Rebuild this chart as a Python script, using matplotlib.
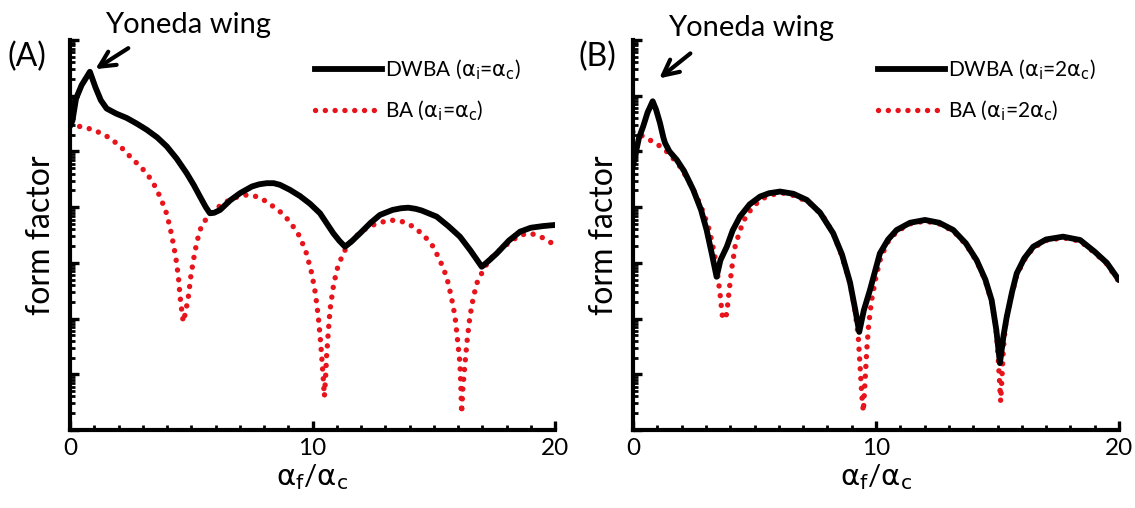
import numpy as np
import matplotlib
matplotlib.use("Agg")
import matplotlib.pyplot as plt
from matplotlib.ticker import LogLocator, MultipleLocator, NullFormatter
from matplotlib.lines import Line2D

plt.rcParams['font.family'] = ['Lato', 'DejaVu Sans']
plt.rcParams['mathtext.fontset'] = 'dejavusans'

# ---------------- data (log10 of form factor) ----------------
# Panel A : alpha_i = alpha_c
xa_dwba = [0.0, 0.1, 0.25, 0.48, 0.82, 1.05, 1.27, 1.51, 1.9, 2.34, 2.75, 3.16, 3.6, 3.99,
           4.4, 4.81, 5.1, 5.36, 5.6, 5.77, 5.95, 6.19, 6.6, 7.01, 7.5, 7.8, 8.11, 8.4, 8.66,
           9.07, 9.48, 9.9, 10.31, 10.6, 10.86, 11.1, 11.34, 11.6, 11.96, 12.4, 12.78, 13.3,
           13.65, 13.95, 14.25, 14.5, 15.12, 15.6, 16.08, 16.5, 16.98, 17.3, 17.6, 18.1,
           18.56, 19.0, 19.5, 20.0]
ya_dwba = [5.45, 5.55, 5.95, 6.19, 6.43, 6.15, 5.92, 5.77, 5.68, 5.60, 5.50, 5.39, 5.25, 5.09,
           4.87, 4.61, 4.40, 4.19, 4.00, 3.89, 3.90, 3.95, 4.12, 4.25, 4.37, 4.41, 4.43, 4.43, 4.40,
           4.31, 4.20, 4.06, 3.89, 3.70, 3.53, 3.40, 3.29, 3.38, 3.53, 3.72, 3.86, 3.95,
           3.98, 3.99, 3.97, 3.94, 3.83, 3.66, 3.47, 3.23, 2.93, 3.05, 3.17, 3.40,
           3.56, 3.63, 3.66, 3.68]

xa_ba = [0.0, 0.5, 0.96, 1.3, 1.65, 2.1, 2.54, 2.85, 3.16, 3.45, 3.71, 3.95, 4.12, 4.28,
         4.40, 4.48, 4.54, 4.62, 4.67, 4.76, 4.88, 4.98, 5.09, 5.22, 5.36, 5.55, 5.77, 6.0,
         6.32, 6.8, 7.29, 7.7, 8.11, 8.66, 9.07, 9.48, 9.75, 9.97, 10.12, 10.24, 10.32,
         10.38, 10.44, 10.49, 10.54, 10.58, 10.65, 10.72, 10.85, 11.0, 11.2, 11.41, 11.75,
         12.1, 12.6, 13.2, 13.7, 14.16, 14.6, 14.98, 15.28, 15.53, 15.72, 15.88, 15.98,
         16.08, 16.12, 16.15, 16.2, 16.29, 16.38, 16.49, 16.62, 16.77, 17.11, 17.4, 17.73,
         18.1, 18.56, 19.0, 19.5, 20.0]
ya_ba = [5.48, 5.44, 5.39, 5.32, 5.24, 5.08, 4.88, 4.75, 4.61, 4.42, 4.19, 3.93, 3.65, 3.30,
         2.99, 2.70, 2.39, 2.10, 1.94, 2.10, 2.39, 2.75, 3.05, 3.35, 3.59, 3.75, 3.86, 3.96,
         4.07, 4.17, 4.22, 4.19, 4.10, 3.92, 3.74, 3.47, 3.17, 2.81, 2.45, 2.03, 1.65,
         1.32, 0.95, 0.60, 0.95, 1.32, 1.75, 2.15, 2.55, 2.87, 3.10, 3.29, 3.46,
         3.59, 3.70, 3.77, 3.74, 3.65, 3.49, 3.29, 3.02, 2.75, 2.40, 2.03, 1.62,
         1.20, 0.75, 0.30, 0.75, 1.20, 1.62, 2.03, 2.35, 2.63, 2.93, 3.10, 3.23,
         3.36, 3.50, 3.53, 3.45, 3.32]

# Panel B : alpha_i = 2 alpha_c
xb_dwba = [0.0, 0.1, 0.25, 0.42, 0.6, 0.81, 0.95, 1.11, 1.25, 1.32, 1.5, 1.8, 2.1, 2.48,
           2.8, 3.03, 3.25, 3.44, 3.6, 3.86, 4.1, 4.4, 4.8, 5.23, 5.6, 6.05, 6.6, 7.15,
           7.7, 8.24, 8.6, 8.93, 9.15, 9.31, 9.5, 9.75, 10.16, 10.5, 10.85, 11.4, 12.02,
           12.6, 13.18, 13.7, 14.14, 14.5, 14.76, 14.95, 15.1, 15.25, 15.38, 15.6, 15.79,
           16.1, 16.47, 17.0, 17.7, 18.4, 19.0, 19.5, 20.0]
yb_dwba = [4.75, 4.95, 5.25, 5.45, 5.70, 5.90, 5.75, 5.51, 5.25, 5.15, 5.00, 4.85, 4.65, 4.31,
           3.95, 3.59, 3.15, 2.75, 3.05, 3.29, 3.58, 3.83, 4.05, 4.19, 4.25, 4.28, 4.24, 4.13,
           3.90, 3.53, 3.15, 2.65, 2.15, 1.76, 2.15, 2.51, 3.17, 3.42, 3.59, 3.72, 3.77,
           3.72, 3.59, 3.35, 3.05, 2.70, 2.33, 1.80, 1.20, 1.70, 2.03, 2.48, 2.81,
           3.08, 3.29, 3.42, 3.47, 3.41, 3.20, 3.00, 2.69]

xb_ba = [0.0, 0.15, 0.56, 0.9, 1.25, 1.6, 1.93, 2.3, 2.62, 2.9, 3.1, 3.25, 3.37, 3.48,
         3.58, 3.64, 3.69, 3.78, 3.86, 3.92, 3.99, 4.08, 4.2, 4.4, 4.61, 4.95, 5.36, 5.8,
         6.19, 6.7, 7.28, 7.8, 8.24, 8.6, 8.93, 9.12, 9.27, 9.37, 9.42, 9.48, 9.54, 9.62,
         9.7, 9.82, 10.0, 10.2, 10.5, 10.85, 11.4, 12.02, 12.6, 13.18, 13.7, 14.14, 14.5,
         14.76, 14.92, 15.0, 15.06, 15.13, 15.19, 15.24, 15.32, 15.42, 15.6, 15.79, 16.1,
         16.47, 17.0, 17.7, 18.4, 19.0, 19.5, 20.0]
yb_ba = [5.35, 5.33, 5.24, 5.15, 5.06, 4.90, 4.73, 4.47, 4.19, 3.90, 3.65, 3.38, 3.11, 2.80,
         2.45, 2.20, 2.00, 2.00, 2.09, 2.35, 2.63, 2.95, 3.29, 3.58, 3.80, 4.02, 4.16, 4.23,
         4.25, 4.20, 4.07, 3.85, 3.53, 3.12, 2.63, 2.20, 1.68, 0.96, 0.60, 0.33, 0.80, 1.44,
         1.90, 2.33, 2.75, 3.10, 3.38, 3.56, 3.70, 3.75, 3.70, 3.57, 3.33, 3.03, 2.68,
         2.30, 1.90, 1.50, 1.05, 0.51, 1.00, 1.44, 1.85, 2.10, 2.45, 2.78, 3.05,
         3.27, 3.40, 3.45, 3.39, 3.18, 2.98, 2.66]

panel_labels = ["(A)", "(B)"]
legend_dwba = [r"DWBA ($\mathrm{\alpha_i}$=$\mathrm{\alpha_c}$)",
               r"DWBA ($\mathrm{\alpha_i}$=2$\mathrm{\alpha_c}$)"]
legend_ba = [r"BA ($\mathrm{\alpha_i}$=$\mathrm{\alpha_c}$)",
             r"BA ($\mathrm{\alpha_i}$=2$\mathrm{\alpha_c}$)"]
xticks = [0, 10, 20]
xtick_labels = ["0", "10", "20"]
annotation_text = "Yoneda wing"

# ---------------- figure ----------------
W, H = 1135, 508
fig = plt.figure(figsize=(W / 100, H / 100), dpi=100)

def frac(x0, x1, ytop, ybot):
    return [x0 / W, 1 - ybot / H, (x1 - x0) / W, (ybot - ytop) / H]

axA = fig.add_axes(frac(70, 555, 40, 430))
axB = fig.add_axes(frac(633, 1119, 40, 430))

RED = '#e8141c'
DOT = (0, (0.01, 1.8))
series = [(axA, xa_dwba, ya_dwba, xa_ba, ya_ba), (axB, xb_dwba, yb_dwba, xb_ba, yb_ba)]

for i, (ax, xd, yd, xbb, ybb) in enumerate(series):
    ax.plot(xbb, 10 ** np.array(ybb), color=RED, lw=3.9,
            linestyle=DOT, dash_capstyle='round', zorder=2)
    ax.plot(xd, 10 ** np.array(yd), color='black', lw=4.2, solid_joinstyle='round',
            solid_capstyle='round', zorder=3)
    ax.set_yscale('log')
    ax.set_ylim(1, 1e7)
    ax.set_xlim(0, 20)
    for s in ['top', 'right']:
        ax.spines[s].set_visible(False)
    for s in ['left', 'bottom']:
        ax.spines[s].set_linewidth(3.0)
    ax.set_xticks(xticks)
    ax.set_xticklabels(xtick_labels)
    ax.xaxis.set_minor_locator(MultipleLocator(1))
    ax.yaxis.set_major_locator(LogLocator(base=10, numticks=20))
    ax.yaxis.set_minor_locator(LogLocator(base=10, subs=np.arange(2, 10), numticks=20))
    ax.yaxis.set_major_formatter(NullFormatter())
    ax.yaxis.set_minor_formatter(NullFormatter())
    ax.tick_params(axis='both', which='major', direction='in', length=6.5, width=2.4,
                   labelsize=17.5, pad=6)
    ax.tick_params(axis='both', which='minor', direction='in', length=3.5, width=2.0)
    ax.set_xlabel(r"$\mathrm{\alpha_f}$/$\mathrm{\alpha_c}$", fontsize=21, labelpad=2)
    ax.set_ylabel("form factor", fontsize=23, labelpad=4)

    h1 = Line2D([], [], color='black', lw=4.2)
    h2 = Line2D([], [], color=RED, lw=3.9, linestyle=DOT, dash_capstyle='round')
    ax.legend([h1, h2], [legend_dwba[i], legend_ba[i]], loc='upper left',
              bbox_to_anchor=(0.505, 0.955), frameon=False, fontsize=15,
              handlelength=3.2, handletextpad=0.15, labelspacing=0.8, borderpad=0,
              borderaxespad=0)

# panel labels
fig.text(27 / W, 1 - 57 / H, panel_labels[0], fontsize=23, ha='center', va='center')
fig.text(597 / W, 1 - 57 / H, panel_labels[1], fontsize=23, ha='center', va='center')

# Yoneda wing annotations
fig.text(188 / W, 1 - 25 / H, annotation_text, fontsize=21, ha='center', va='center')
fig.text(751 / W, 1 - 28 / H, annotation_text, fontsize=21, ha='center', va='center')
axA.annotate('', xy=(0.95, 10 ** 6.45), xytext=(2.5, 10 ** 6.88),
             arrowprops=dict(arrowstyle='->', lw=3, mutation_scale=28, color='black'),
             annotation_clip=False)
axB.annotate('', xy=(0.99, 10 ** 6.28), xytext=(2.45, 10 ** 6.79),
             arrowprops=dict(arrowstyle='->', lw=3, mutation_scale=28, color='black'),
             annotation_clip=False)

fig.savefig("out.png", dpi=100)
